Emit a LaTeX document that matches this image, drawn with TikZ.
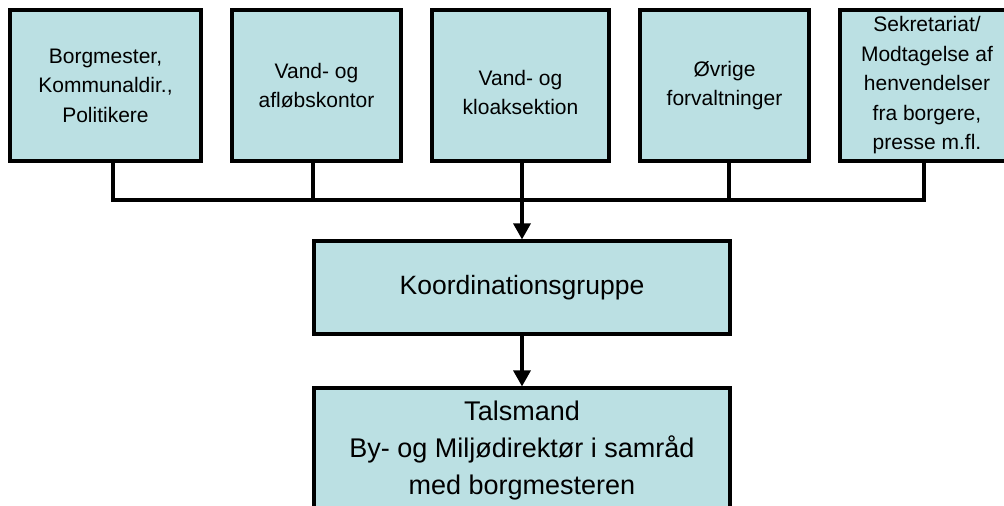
\documentclass[tikz,border=0pt]{standalone}
\usepackage{fontspec}
\setmainfont{Liberation Sans}
\usetikzlibrary{arrows.meta}
\definecolor{boxfill}{RGB}{187,224,227}
\tikzset{
  orgbox/.style={draw=black, line width=3.2pt, fill=boxfill, inner sep=0pt, align=center, minimum height=151pt},
  topfont/.style={font=\fontsize{21}{29.5}\selectfont},
  link/.style={line width=3.4pt},
  arrowlink/.style={line width=3.4pt, -{Triangle[length=16pt,width=17pt]}}
}
\begin{document}
\begin{tikzpicture}[x=1pt,y=-1pt]
\clip (0,0) rectangle (1004,506);
\fill[white] (0,0) rectangle (1004,506);
\node[orgbox, topfont, minimum width=191pt] (b1) at (105.5,85.5) {Borgmester,\\Kommunaldir.,\\Politikere};
\node[orgbox, topfont, minimum width=169pt] (b2) at (316.5,85.5) {Vand- og\\afløbskontor};
\node[orgbox, topfont, minimum width=177pt] (b3) at (520.5,85.5) {\mbox{}\\Vand- og\\kloaksektion};
\node[orgbox, topfont, minimum width=169pt] (b4) at (724.5,85.5) {Øvrige\\forvaltninger};
\node[orgbox, topfont, minimum width=174pt] (b5) at (927,85.5) {Sekretariat/\\Modtagelse af\\henvendelser\\fra borgere,\\presse m.fl.};
\node[orgbox, font=\fontsize{26.5}{34}\selectfont, minimum width=416pt, minimum height=93pt] (k) at (522,287.5) {Koordinationsgruppe};
\node[orgbox, font=\fontsize{27}{37}\selectfont, minimum width=416pt, minimum height=126pt] (t) at (522,451) {Talsmand\\By- og Miljødirektør i samråd\\med borgmesteren};
\coordinate (busM) at (522,200);
\coordinate (d1) at ([xshift=7.5pt]b1.south);
\coordinate (d2) at ([xshift=-3.5pt]b2.south);
\coordinate (d3) at ([xshift=1.5pt]b3.south);
\coordinate (d4) at ([xshift=4.5pt]b4.south);
\coordinate (d5) at ([xshift=-3pt]b5.south);
\draw[link] (d1) |- (busM) -| (d5);
\draw[link] (d2) -- (d2 |- busM);
\draw[link] (d3) -- (busM);
\draw[link] (d4) -- (d4 |- busM);
\draw[arrowlink] (busM) -- (k.north);
\draw[arrowlink] (k.south) -- (t.north);
\end{tikzpicture}
\end{document}
